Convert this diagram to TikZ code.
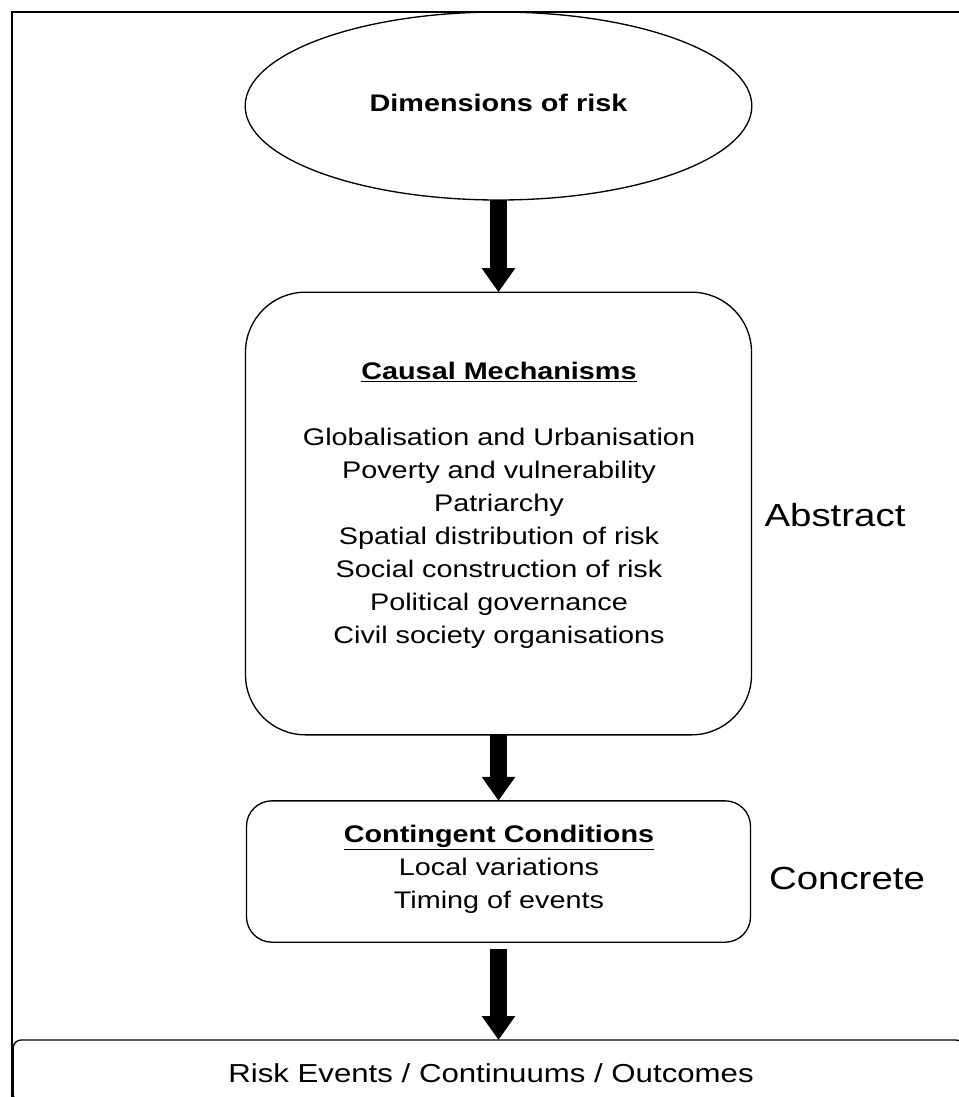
\documentclass[tikz,border=0pt]{standalone}
\usepackage{fontspec}
\setmainfont{Liberation Sans}[FakeStretch=1.2]
\usepackage{tikz}
\usetikzlibrary{arrows.meta,shapes.geometric}
\tikzset{
	box/.style={draw, line width=1pt, inner sep=0pt, outer sep=0pt},
	bigarrow/.style={line width=12.75pt, -{Triangle[width=24pt,length=18pt]}},
	txt/.style={align=center, font=\fontsize{18}{24.75}\selectfont},
	sidetxt/.style={font=\fontsize{24}{28}\selectfont}
}

\begin{document}
\begin{tikzpicture}[x=0.75pt,y=-0.75pt]
		%%%%% START %%%%%
		\useasboundingbox (0, 0) rectangle (959, 1097);
		\clip (0, 0) rectangle (959, 1097);
		
		\draw[line width=1pt] (12, 1097) -- (12, 12) -- (959, 12);
		
		\node[box, ellipse, minimum width=380pt, minimum height=141pt] (dims) at (498.5, 106) {};
		\node[txt, font=\fontsize{18}{24.75}\selectfont\bfseries] (dimstxt) at (498.5, 103) {Dimensions of risk};
		
		\node[box, rounded corners=45pt, minimum width=379.5pt, minimum height=332pt] (causal) at (498.5, 513.5) {};
		\node[txt] (causaltxt) at (499, 505) {\textbf{\underline{Causal Mechanisms}}\\[24.75pt]
			Globalisation and Urbanisation\\
			Poverty and vulnerability\\
			Patriarchy\\
			Spatial distribution of risk\\
			Social construction of risk\\
			Political governance\\
			Civil society organisations};
		\node[sidetxt] (abstract) at (835, 515) {Abstract};
		
		\node[box, rounded corners=19pt, minimum width=378pt, minimum height=106pt] (contingent) at (498.5, 871.5) {};
		\node[txt] (contingenttxt) at (499, 869) {\textbf{\underline{Contingent Conditions}}\\
			Local variations\\
			Timing of events};
		\node[sidetxt] (concrete) at (847, 878) {Concrete};
		
		\node[box, rounded corners=6pt, minimum width=713pt, minimum height=46.5pt] (outcomes) at (488.5, 1071) {};
		\node[txt, font=\fontsize{19.5}{24}\selectfont] (outcomestxt) at (491, 1073) {Risk Events / Continuums / Outcomes};
		
		\draw[bigarrow] (dims.south) -- (causal.north);
		\draw[bigarrow] (causal.south) -- (contingent.north);
		\draw[bigarrow, shorten <=5pt] (contingent.south) -- (contingent.south |- outcomes.north);
		
		%%%%% END %%%%%
\end{tikzpicture}
\end{document}
